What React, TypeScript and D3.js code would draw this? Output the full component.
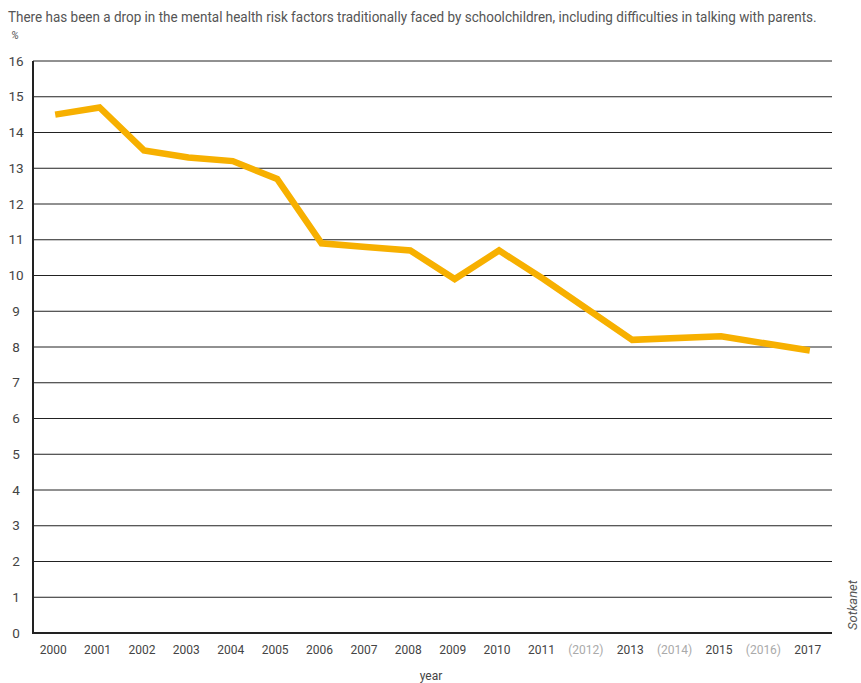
import React from "react";
import * as d3 from "d3";

const years = ["2000","2001","2002","2003","2004","2005","2006","2007","2008","2009","2010","2011","2012","2013","2014","2015","2016","2017"];
const yearLabels = ["2000","2001","2002","2003","2004","2005","2006","2007","2008","2009","2010","2011","(2012)","2013","(2014)","2015","(2016)","2017"];
const missingYears = ["2012","2014","2016"];
const values: (number | null)[] = [14.5,14.7,13.5,13.3,13.2,12.7,10.9,10.8,10.7,9.9,10.7,9.9,null,8.2,null,8.3,null,7.9];
const yTicks = [0,1,2,3,4,5,6,7,8,9,10,11,12,13,14,15,16];

const title = "There has been a drop in the mental health risk factors traditionally faced by schoolchildren, including difficulties in talking with parents.";

const W = 861;
const H = 683;
const left = 33;
const right = 832;
const top = 61;
const bottom = 633;
const font = "Roboto, 'Noto Sans', sans-serif";

export default function App() {
  const x = d3.scalePoint<string>().domain(years).range([left, right]).padding(0.5);
  const y = d3.scaleLinear().domain([0, 16]).range([bottom, top]);

  const pts = years
    .map((yr, i) => ({ yr, v: values[i] }))
    .filter((d) => d.v !== null) as { yr: string; v: number }[];

  const line = d3
    .line<{ yr: string; v: number }>()
    .x((d) => x(d.yr) as number)
    .y((d) => y(d.v));

  return (
    <svg
      width={W}
      height={H}
      style={{ position: "absolute", left: 0, top: 0, background: "#fff" }}
    >
      {/* condensed title: horizontally squeezed to sit on one line */}
      <g transform="translate(8,22) scale(0.9,1)">
        <text x={0} y={0} fontFamily={font} fontSize={15} fill="#555">
          {title}
        </text>
      </g>
      <text x={11} y={39} fontFamily={font} fontSize={11} fontStyle="italic" fill="#555">
        %
      </text>

      {yTicks.map((t) => (
        <g key={t}>
          <line x1={left} x2={right} y1={y(t)} y2={y(t)} stroke="#222" strokeWidth={t === 0 ? 2 : 1} />
          <text
            x={16}
            y={y(t)}
            dy="0.35em"
            textAnchor="middle"
            fontFamily={font}
            fontSize={13.5}
            fill="#444"
          >
            {t}
          </text>
        </g>
      ))}
      <line x1={left} x2={left} y1={top} y2={bottom + 1} stroke="#222" strokeWidth={2} />

      {years.map((yr, i) => (
        <text
          key={yr}
          x={(x(yr) as number) - 2}
          y={654}
          textAnchor="middle"
          fontFamily={font}
          fontSize={12}
          fill={missingYears.includes(yr) ? "#aaa" : "#444"}
        >
          {yearLabels[i]}
        </text>
      ))}
      <text x={431} y={680} textAnchor="middle" fontFamily={font} fontSize={12} fill="#444">
        year
      </text>
      <text
        transform="translate(857,605) rotate(-90)"
        textAnchor="middle"
        fontFamily={font}
        fontSize={13}
        fontStyle="italic"
        fill="#555"
      >
        Sotkanet
      </text>

      <path
        d={line(pts) ?? ""}
        fill="none"
        stroke="#F7B000"
        strokeWidth={6.5}
        strokeLinejoin="miter"
      />
    </svg>
  );
}
